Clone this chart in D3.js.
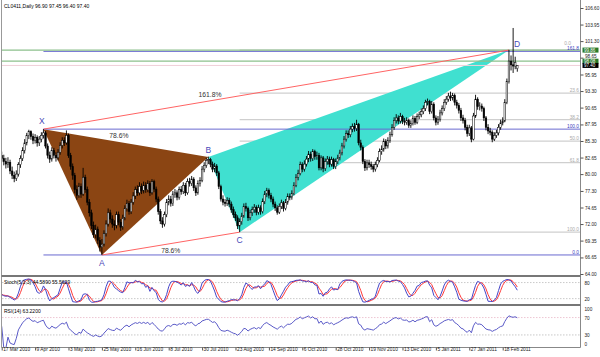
<!DOCTYPE html>
<html><head><meta charset="utf-8">
<script src="https://cdn.jsdelivr.net/npm/d3@7"></script>
<style>body{margin:0;background:#fff}svg{display:block}text{font-family:"Liberation Sans",Arial,sans-serif}</style>
</head><body>
<svg id="c" width="600" height="357"></svg>
<script>
const title = "CL0411,Daily  96.90 97.45 96.40 97.40";
const stochTitle = "Stoch(5,3,3) 44.5890 55.5629";
const rsiTitle = "RSI(14) 63.2200";

const opens = [83.0,82.5,82.0,81.6,81.9,80.5,79.8,79.3,80.0,81.5,
82.5,83.8,85.0,86.2,86.8,86.0,85.4,85.9,85.0,85.6,
86.2,86.6,84.5,83.0,82.4,83.8,83.0,82.6,83.5,84.6,
85.4,85.0,86.2,83.0,81.2,79.8,77.5,76.6,78.0,76.8,
79.5,77.5,75.5,73.8,71.8,70.3,71.2,69.4,68.3,68.8,
70.5,72.0,73.8,72.8,72.0,71.8,73.5,72.3,71.5,73.0,
74.5,75.3,74.0,75.5,76.5,77.5,77.0,78.0,77.3,78.2,
77.5,78.5,77.0,78.8,77.6,76.0,74.0,72.5,72.0,73.5,
75.5,76.0,75.3,76.8,77.0,76.3,77.5,77.2,78.2,77.0,
78.8,78.5,79.2,77.8,77.0,78.5,79.0,80.8,81.4,82.2,
82.3,81.6,80.8,81.3,80.2,78.0,76.0,75.5,75.3,75.8,
75.2,74.3,73.5,73.0,71.7,72.4,73.3,74.8,74.5,73.0,
73.8,74.3,74.7,73.9,74.6,74.0,75.6,76.8,77.4,76.6,
76.0,75.2,74.6,73.9,74.8,75.4,74.5,75.5,76.4,76.3,
76.9,78.2,79.5,80.1,81.5,80.8,81.6,82.4,83.2,82.5,
83.6,82.8,83.0,81.0,82.6,80.9,82.0,82.4,81.6,82.3,
81.2,82.0,82.6,83.4,84.5,85.6,86.5,86.3,87.2,87.6,
87.3,88.0,85.0,84.3,82.0,81.0,81.8,81.5,81.2,80.8,
81.5,82.2,83.6,84.0,85.2,84.5,85.4,86.3,87.5,88.6,
89.0,88.5,89.2,88.5,88.3,88.6,87.8,88.1,88.9,88.3,
89.2,89.5,90.0,90.5,91.5,91.6,90.0,91.2,89.0,88.3,
88.8,89.8,90.5,91.5,92.0,92.5,92.2,92.6,91.5,91.0,
90.2,89.0,88.6,87.5,86.5,87.4,85.6,89.3,92.0,90.8,
90.9,90.5,89.0,87.5,86.9,86.7,85.6,86.2,86.6,87.5,
88.2,88.5,91.5,94.8,98.1,97.5,97.3,96.9];

const highs = [83.6,83.1,82.6,82.7,82.3,81.2,80.4,80.6,81.9,83.0,
84.3,85.6,86.6,87.1,87.0,86.5,86.4,86.2,86.1,86.7,
87.2,86.9,84.9,83.6,84.3,84.2,83.5,84.0,85.1,85.9,
85.9,87.0,86.5,83.4,81.7,80.2,78.2,78.6,78.5,81.0,
79.9,78.0,76.0,74.3,72.4,71.9,71.6,69.9,69.6,71.0,
72.6,74.5,74.3,73.4,72.6,74.0,74.0,72.8,73.5,75.0,
75.9,75.7,76.0,77.1,78.0,78.2,78.7,78.5,78.8,78.7,
79.0,78.9,79.2,79.1,78.0,76.4,74.4,73.1,74.0,76.0,
76.6,76.5,77.3,77.6,77.4,78.0,78.1,78.7,78.6,79.3,
79.4,79.7,79.5,78.2,79.0,79.5,81.3,81.9,82.6,82.8,
82.6,82.0,81.8,81.6,80.5,78.3,76.6,76.0,76.3,76.2,
75.6,74.8,74.0,73.4,72.9,73.8,75.3,75.4,74.8,74.3,
74.8,75.2,75.0,75.1,75.0,76.1,77.3,77.8,77.7,77.0,
76.4,75.6,75.0,75.3,75.9,75.7,76.0,76.9,76.9,77.4,
78.7,80.0,80.7,82.0,81.9,82.2,82.9,83.7,83.6,84.0,
83.9,83.6,83.4,83.0,82.9,82.5,82.9,82.8,82.8,82.6,
82.5,83.1,83.9,85.0,86.1,87.0,87.0,87.7,88.1,88.2,
88.7,88.2,85.5,84.6,82.4,82.3,82.3,82.0,81.6,82.0,
82.7,84.1,84.6,85.7,85.6,85.9,86.8,88.0,89.1,89.6,
89.4,89.8,89.5,89.0,89.1,88.9,88.6,89.4,89.3,89.7,
90.0,90.5,91.0,91.9,92.1,91.9,91.7,91.5,89.4,89.3,
90.3,91.0,92.0,92.5,93.0,93.2,93.0,92.9,91.9,91.4,
90.6,89.5,89.0,87.9,87.9,87.7,89.8,92.7,92.3,91.5,
91.3,90.8,89.3,88.0,87.4,87.0,86.7,87.1,88.0,88.7,
89.1,92.0,95.3,99.9,99.0,103.4,98.8,97.45];

const lows = [81.9,81.4,80.9,81.0,80.0,79.2,78.7,78.9,79.6,81.0,
82.1,83.3,84.6,85.6,85.5,84.8,84.9,84.4,84.5,85.1,
85.7,84.1,82.5,81.8,82.0,82.5,82.0,82.2,83.1,84.1,
84.5,84.7,82.6,80.7,79.1,76.9,75.9,76.2,76.2,76.5,
77.0,75.0,73.2,71.2,69.8,69.7,68.8,67.6,67.05,68.4,
70.0,71.6,72.2,71.4,71.0,71.3,71.8,70.9,71.1,72.6,
74.0,73.5,73.6,75.1,76.0,76.5,76.6,76.8,76.9,77.0,
77.1,76.5,76.7,77.1,75.5,73.5,72.0,71.4,71.6,73.1,
75.0,74.8,74.9,76.2,75.8,75.9,76.7,76.8,76.5,76.7,
78.0,78.1,77.3,76.5,76.7,78.0,78.7,80.3,81.0,81.6,
81.1,80.3,80.3,79.7,77.6,75.6,75.0,74.8,74.9,74.7,
73.8,73.0,72.5,71.2,70.7,71.9,73.0,74.0,72.5,72.6,
73.3,73.8,73.4,73.5,73.5,73.7,75.2,76.3,76.1,75.5,
74.7,74.1,73.5,73.6,74.4,74.0,74.2,75.1,75.8,75.9,
76.6,77.9,79.0,79.8,80.3,80.4,81.2,81.9,82.0,82.1,
82.3,82.3,80.6,80.6,80.3,80.5,81.5,81.1,81.2,80.8,
80.8,81.6,82.2,83.0,84.1,85.2,85.8,85.9,86.7,86.8,
86.9,84.6,83.8,81.6,80.5,80.6,81.0,80.7,80.3,80.4,
81.1,81.9,83.1,83.6,84.0,84.1,85.0,86.0,87.1,88.1,
88.0,88.1,88.0,87.8,87.9,87.4,87.4,87.8,87.9,88.0,
88.8,89.1,89.6,90.1,91.0,89.6,89.7,88.6,87.8,87.9,
88.4,89.4,90.1,91.1,91.6,91.7,91.8,91.0,90.5,89.7,
88.5,88.1,87.0,86.0,86.1,85.1,85.4,89.0,90.3,90.2,
90.0,88.5,87.0,86.4,86.2,85.1,85.3,85.8,86.2,87.1,
87.8,88.3,91.2,94.5,96.6,96.2,96.8,96.4];

const closes = [82.5,82.0,81.6,81.9,80.5,79.8,79.3,80.0,81.5,82.5,
83.8,85.0,86.2,86.8,86.0,85.4,85.9,85.0,85.6,86.2,
86.6,84.5,83.0,82.4,83.8,83.0,82.6,83.5,84.6,85.4,
85.0,86.2,83.0,81.2,79.8,77.5,76.6,78.0,76.8,79.5,
77.5,75.5,73.8,71.8,70.3,71.2,69.4,68.3,68.8,70.5,
72.0,73.8,72.8,72.0,71.8,73.5,72.3,71.5,73.0,74.5,
75.3,74.0,75.5,76.5,77.5,77.0,78.0,77.3,78.2,77.5,
78.5,77.0,78.8,77.6,76.0,74.0,72.5,72.0,73.5,75.5,
76.0,75.3,76.8,77.0,76.3,77.5,77.2,78.2,77.0,78.8,
78.5,79.2,77.8,77.0,78.5,79.0,80.8,81.4,82.2,82.3,
81.6,80.8,81.3,80.2,78.0,76.0,75.5,75.3,75.8,75.2,
74.3,73.5,73.0,71.7,72.4,73.3,74.8,74.5,73.0,73.8,
74.3,74.7,73.9,74.6,74.0,75.6,76.8,77.4,76.6,76.0,
75.2,74.6,73.9,74.8,75.4,74.5,75.5,76.4,76.3,76.9,
78.2,79.5,80.1,81.5,80.8,81.6,82.4,83.2,82.5,83.6,
82.8,83.0,81.0,82.6,80.9,82.0,82.4,81.6,82.3,81.2,
82.0,82.6,83.4,84.5,85.6,86.5,86.3,87.2,87.6,87.3,
88.0,85.0,84.3,82.0,81.0,81.8,81.5,81.2,80.8,81.5,
82.2,83.6,84.0,85.2,84.5,85.4,86.3,87.5,88.6,89.0,
88.5,89.2,88.5,88.3,88.6,87.8,88.1,88.9,88.3,89.2,
89.5,90.0,90.5,91.5,91.6,90.0,91.2,89.0,88.3,88.8,
89.8,90.5,91.5,92.0,92.5,92.2,92.6,91.5,91.0,90.2,
89.0,88.6,87.5,86.5,87.4,85.6,89.3,92.0,90.8,90.9,
90.5,89.0,87.5,86.9,86.7,85.6,86.2,86.6,87.5,88.2,
88.5,91.5,94.8,98.1,97.5,97.3,97.9,97.4];

const dateLabels = ["17 Mar 2010","9 Apr 2010","3 May 2010","25 May 2010","16 Jun 2010","8 Jul 2010","30 Jul 2010","23 Aug 2010","14 Sep 2010","6 Oct 2010","28 Oct 2010","19 Nov 2010","13 Dec 2010","5 Jan 2011","27 Jan 2011","18 Feb 2011"];
const dateLabelBars = [0,16,32,48,64,80,96,112,128,144,160,176,192,208,224,240];
const priceTicks = [106.60,103.95,101.30,98.65,95.95,93.30,90.65,87.95,85.30,82.65,80.00,77.30,74.65,72.00,69.35,66.65,64.00];

const patternNames = ["X","A","B","C","D"];
const patternBars = [20,48,99,114,243];
const patternPrices = [87.2,67.05,82.75,70.7,99.86];

const fibXALevels = [0,100,161.8];
const fibXALabels = ["0.0","100.0","161.8"];
const fibCDLevels = [0,23.6,38.2,50,61.8,100];
const fibCDLabels = ["0.0","23.6","38.2","50.0","61.8","100.0"];
const markerPrices = [99.86, 98.08];
const markerLabels = ["99.86","98.08"];
const lastPrice = 97.40;
const lastLabel = "97.40";
const ratioXB = "78.6%", ratioAC = "78.6%", ratioXD = "161.8%";
const stochLevels = [80,20], stochLabels=["80","20"];
const rsiLevels = [70,30], rsiLabels=["100","70","30","0"], rsiLabelVals=[100,70,30,0];

// ---------- indicators ----------
const n = closes.length;
const K=[], Dsig=[];
const num=[], den=[];
for(let i=0;i<n;i++){
  const s=Math.max(0,i-4);
  const hh=d3.max(highs.slice(s,i+1)), ll=d3.min(lows.slice(s,i+1));
  num.push(closes[i]-ll); den.push(hh-ll);
  const s2=Math.max(0,i-2);
  const a=d3.sum(num.slice(s2,i+1)), b=d3.sum(den.slice(s2,i+1));
  K.push(b>0?a/b*100:50);
  Dsig.push(d3.mean(K.slice(Math.max(0,i-2),i+1)));
}
const RSI=[50];
let ag=0, al=0;
for(let i=1;i<n;i++){
  const ch=closes[i]-closes[i-1];
  const g=Math.max(ch,0), l=Math.max(-ch,0);
  if(i<=14){ ag=(ag*(i-1)+g)/i; al=(al*(i-1)+l)/i; }
  else { ag=(ag*13+g)/14; al=(al*13+l)/14; }
  RSI.push(al===0?100:100-100/(1+ag/al));
}

// ---------- layout ----------
const svg=d3.select("#c");
const axisX=580.5;
const x=d3.scaleLinear().domain([0,247]).range([1.7,517.3]);
const y=d3.scaleLinear().domain([64,106.6]).range([274,8]);
const yS=d3.scaleLinear().domain([0,100]).range([304,277.2]);
const yR=d3.scaleLinear().domain([0,100]).range([348,304.5]);

svg.append("rect").attr("width",600).attr("height",357).attr("fill","#fff");
const defs=svg.append("defs");
defs.append("clipPath").attr("id","mainclip").append("rect").attr("x",2).attr("y",0).attr("width",578).attr("height",275);
defs.append("clipPath").attr("id","sclip").append("rect").attr("x",2).attr("y",277).attr("width",578).attr("height",27);
defs.append("clipPath").attr("id","rclip").append("rect").attr("x",2).attr("y",306).attr("width",578).attr("height",41);

const main=svg.append("g").attr("clip-path","url(#mainclip)");

// Fib C-D (gray)
const Xp=patternPrices[0], Ap=patternPrices[1], Cp=patternPrices[3], Dp=patternPrices[4];
const cdY = fibCDLevels.map(L=>y(Dp-L/100*(Dp-Cp)));
main.selectAll("line.fcd").data(cdY).join("line")
  .attr("x1",x(patternBars[3])).attr("x2",axisX).attr("y1",d=>d).attr("y2",d=>d)
  .attr("stroke","#cfcfcf").attr("stroke-width",1.2);

// triangles
const pt=i=>[x(patternBars[i]),y(patternPrices[i])];
main.append("path").attr("d",d3.line()([pt(0),pt(1),pt(2)])+"Z").attr("fill","#8b4513");
main.append("path").attr("d",d3.line()([pt(2),pt(3),pt(4)])+"Z").attr("fill","#40e0d0");

// Fib X-A (blue)
const xaY = fibXALevels.map(L=>y(Ap+L/100*(Xp-Ap)));
main.selectAll("line.fxa").data(xaY).join("line")
  .attr("x1",x(patternBars[0])).attr("x2",axisX).attr("y1",d=>d).attr("y2",d=>d)
  .attr("stroke","#6a6ad0").attr("stroke-width",1);

// green marker lines and bid line
main.selectAll("line.mk").data(markerPrices).join("line")
  .attr("x1",0).attr("x2",axisX).attr("y1",d=>y(d)).attr("y2",d=>y(d))
  .attr("stroke","#8cc08c").attr("stroke-width",1.2);
main.append("line").attr("x1",0).attr("x2",axisX).attr("y1",y(lastPrice)).attr("y2",y(lastPrice))
  .attr("stroke","#f0d0d8").attr("stroke-width",1);

// red lines X-D, A-C
main.append("line").attr("x1",pt(0)[0]).attr("y1",pt(0)[1]).attr("x2",pt(4)[0]).attr("y2",pt(4)[1]).attr("stroke","#ff6464").attr("stroke-width",1);
main.append("line").attr("x1",pt(1)[0]).attr("y1",pt(1)[1]).attr("x2",pt(3)[0]).attr("y2",pt(3)[1]).attr("stroke","#ff6464").attr("stroke-width",1);

// candles
const idx=d3.range(n);
const cg=main.append("g");
cg.selectAll("line").data(idx).join("line")
  .attr("x1",i=>x(i)).attr("x2",i=>x(i)).attr("y1",i=>y(highs[i])).attr("y2",i=>y(lows[i]))
  .attr("stroke","#000").attr("stroke-width",0.9);
cg.selectAll("rect").data(idx).join("rect")
  .attr("x",i=>x(i)-0.8).attr("width",1.6)
  .attr("y",i=>y(Math.max(opens[i],closes[i])))
  .attr("height",i=>Math.max(0.6,Math.abs(y(opens[i])-y(closes[i]))))
  .attr("fill",i=>closes[i]>=opens[i]?"#fff":"#000")
  .attr("stroke","#000").attr("stroke-width",0.5);

// pattern letters
const letterDx=[-1.5,0,0,0,8], letterDy=[-5,11,-4,11,-3];
svg.selectAll("text.pl").data(patternNames).join("text")
  .attr("x",(d,i)=>pt(i)[0]+letterDx[i]).attr("y",(d,i)=>pt(i)[1]+letterDy[i])
  .attr("text-anchor","middle").attr("font-size",8.5).attr("fill","#4848b8").text(d=>d);

// ratio labels
svg.append("text").attr("x",(pt(0)[0]+pt(2)[0])/2-7).attr("y",(pt(0)[1]+pt(2)[1])/2-5)
  .attr("text-anchor","middle").attr("font-size",6.8).attr("fill","#333").text(ratioXB);
svg.append("text").attr("x",(pt(1)[0]+pt(3)[0])/2).attr("y",(pt(1)[1]+pt(3)[1])/2+9)
  .attr("text-anchor","middle").attr("font-size",6.8).attr("fill","#333").text(ratioAC);
svg.append("text").attr("x",210).attr("y",97)
  .attr("text-anchor","middle").attr("font-size",6.8).attr("fill","#333").text(ratioXD);

// fib labels
svg.selectAll("text.fcdl").data(fibCDLabels).join("text")
  .attr("x",(d,i)=>i===0?571:579).attr("y",(d,i)=>cdY[i]-(i===0?5:1)).attr("text-anchor","end")
  .attr("font-size",4.8).attr("fill","#aaa").text(d=>d);
svg.selectAll("text.fxal").data(fibXALabels).join("text")
  .attr("x",579).attr("y",(d,i)=>xaY[i]-1).attr("text-anchor","end")
  .attr("font-size",4.8).attr("fill","#4040c0").text(d=>d);

// title
svg.append("text").attr("x",4).attr("y",8).attr("font-size",5).attr("fill","#000").text(title);

// ---------- stochastic ----------
const sg=svg.append("g").attr("clip-path","url(#sclip)");
sg.selectAll("line").data(stochLevels).join("line").attr("x1",2).attr("x2",axisX)
  .attr("y1",d=>yS(d)).attr("y2",d=>yS(d)).attr("stroke","#bbb").attr("stroke-dasharray","1.5,1.5").attr("stroke-width",0.8);
sg.append("path").datum(idx).attr("d",d3.line().x(i=>x(i)).y(i=>yS(Dsig[i])))
  .attr("fill","none").attr("stroke","#ff3838").attr("stroke-width",1);
sg.append("path").datum(idx).attr("d",d3.line().x(i=>x(i)).y(i=>yS(K[i])))
  .attr("fill","none").attr("stroke","#4646c8").attr("stroke-width",1);
svg.append("text").attr("x",4).attr("y",284).attr("font-size",5).attr("fill","#000").text(stochTitle);

// ---------- RSI ----------
const rg=svg.append("g").attr("clip-path","url(#rclip)");
rg.selectAll("line").data(rsiLevels).join("line").attr("x1",2).attr("x2",axisX)
  .attr("y1",d=>yR(d)).attr("y2",d=>yR(d)).attr("stroke",(d,i)=>i===0?"#e8b8c8":"#bbb").attr("stroke-dasharray","1.5,1.5").attr("stroke-width",0.8);
rg.append("path").datum(idx).attr("d",d3.line().x(i=>x(i)).y(i=>yR(RSI[i])))
  .attr("fill","none").attr("stroke","#5a5ac8").attr("stroke-width",1);
svg.append("text").attr("x",4).attr("y",313).attr("font-size",5).attr("fill","#000").text(rsiTitle);

// ---------- frames ----------
svg.append("line").attr("x1",1.5).attr("x2",1.5).attr("y1",0).attr("y2",347.5).attr("stroke","#999");
svg.append("line").attr("x1",axisX).attr("x2",axisX).attr("y1",0).attr("y2",347.5).attr("stroke","#888");
[276,305].forEach(v=>svg.append("line").attr("x1",1.5).attr("x2",axisX).attr("y1",v).attr("y2",v).attr("stroke","#777").attr("stroke-width",2));
svg.append("line").attr("x1",1.5).attr("x2",axisX).attr("y1",347.5).attr("y2",347.5).attr("stroke","#888");

// ---------- right price axis ----------
const ax=svg.append("g").attr("transform",`translate(${axisX},0)`)
  .call(d3.axisRight(y).tickValues(priceTicks).tickSize(3).tickPadding(1.5).tickFormat(d3.format(".2f")));
ax.select(".domain").remove();
ax.selectAll("line").attr("stroke","#555");
ax.selectAll("text").attr("font-size",4.7).attr("fill","#222").attr("font-family","Liberation Sans, Arial, sans-serif");
ax.selectAll(".tick").filter(d=>d===98.65).select("text").attr("dy","-0.05em");

const sx=svg.append("g").attr("transform",`translate(${axisX},0)`)
  .call(d3.axisRight(yS).tickValues(stochLevels).tickSize(0).tickPadding(4).tickFormat((d,i)=>stochLabels[i]));
sx.select(".domain").remove();
sx.selectAll("text").attr("font-size",4.7).attr("fill","#222").attr("font-family","Liberation Sans, Arial, sans-serif");
const rx=svg.append("g").attr("transform",`translate(${axisX},0)`)
  .call(d3.axisRight(yR).tickValues(rsiLabelVals).tickSize(0).tickPadding(4).tickFormat((d,i)=>rsiLabels[i]));
rx.select(".domain").remove();
rx.selectAll(".tick").filter(d=>d===100).attr("transform",`translate(0,${yR(100)+4.5})`);
rx.selectAll(".tick").filter(d=>d===0).attr("transform",`translate(0,${yR(0)-4})`);
rx.selectAll("text").attr("font-size",4.7).attr("fill","#222").attr("font-family","Liberation Sans, Arial, sans-serif");

// price boxes
const boxes=[{p:markerPrices[0],t:markerLabels[0],c:"#2a7a2a"},{p:markerPrices[1],t:markerLabels[1],c:"#2a7a2a"},{p:lastPrice,t:lastLabel,c:"#000"}];
const bg=svg.selectAll("g.box").data(boxes).join("g").attr("transform",d=>`translate(${axisX+2},${y(d.p)})`);
bg.append("rect").attr("x",0).attr("y",-2.5).attr("width",16).attr("height",5).attr("fill",d=>d.c);
bg.append("text").attr("x",1.5).attr("y",1.7).attr("font-size",4.5).attr("fill","#fff").text(d=>d.t);

// ---------- date axis ----------
const dx=svg.append("g").attr("transform","translate(0,347.5)")
  .call(d3.axisBottom(x).tickValues(dateLabelBars).tickSize(3).tickPadding(1).tickFormat((d,i)=>dateLabels[i]));
dx.select(".domain").remove();
dx.selectAll("line").attr("stroke","#555");
dx.selectAll("text").attr("text-anchor","start").attr("dx",1).attr("dy","0.3em").attr("y",2.5)
  .attr("font-size",4.8).attr("fill","#222").attr("font-family","Liberation Sans, Arial, sans-serif");
</script>
</body></html>
